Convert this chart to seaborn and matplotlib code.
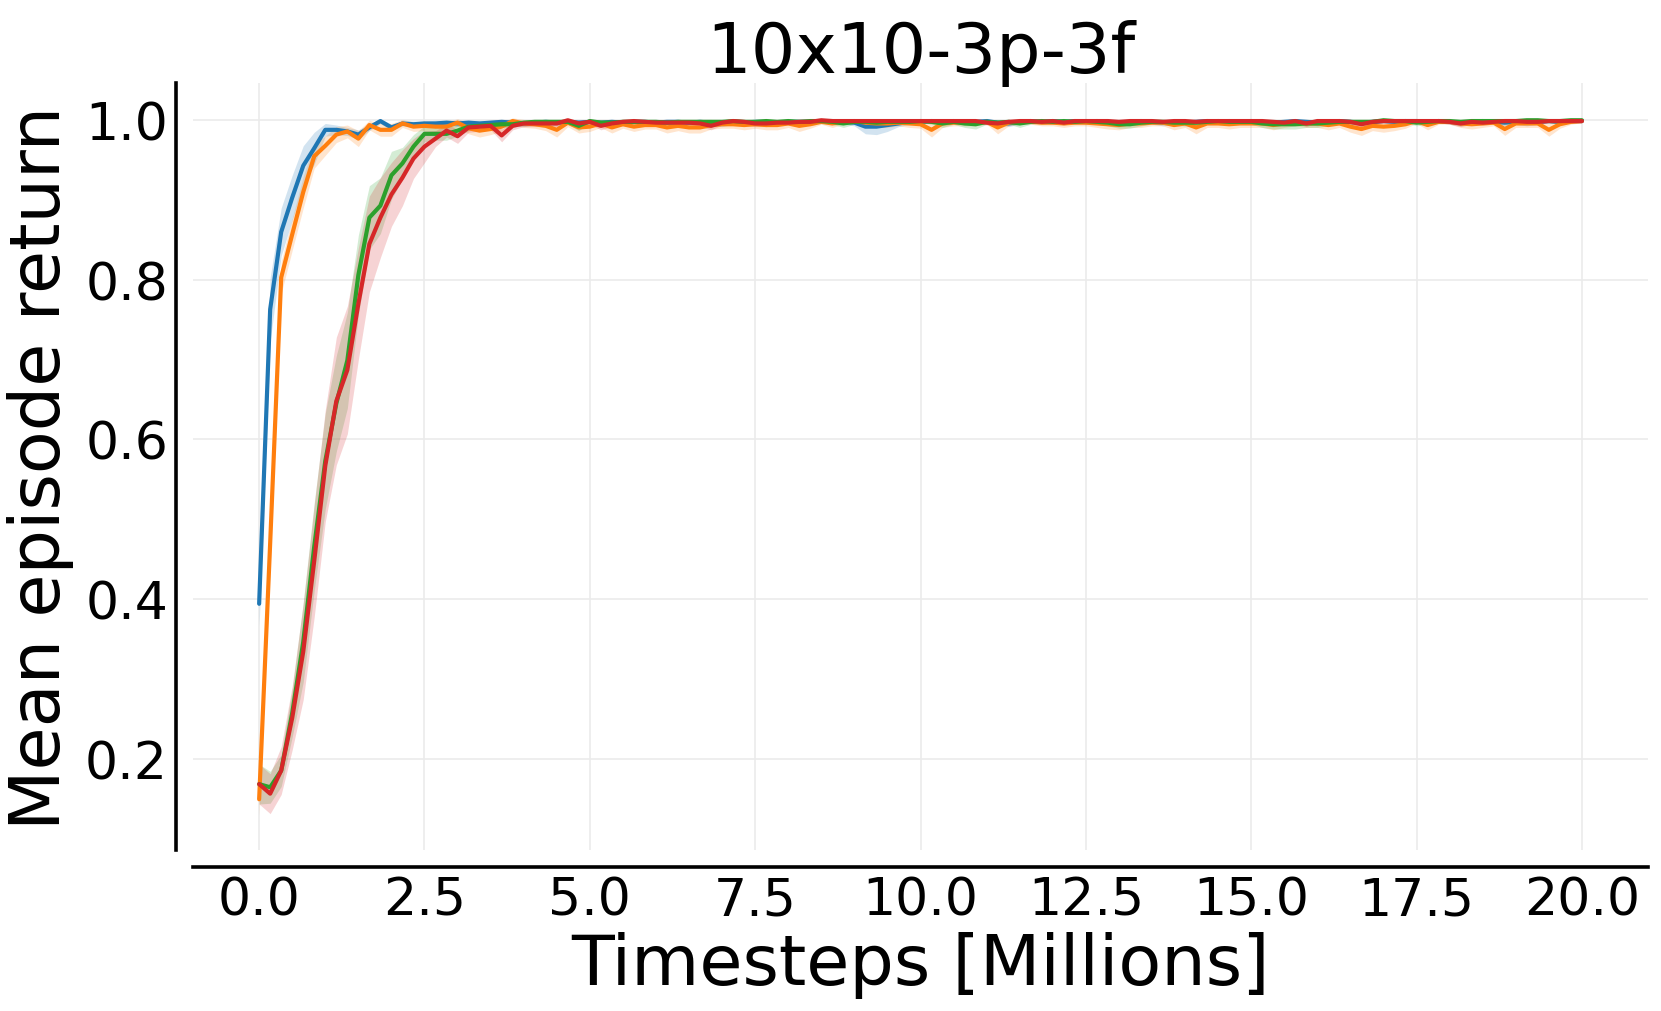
#!/usr/bin/env python3

import numpy as np
import pandas as pd
import matplotlib
matplotlib.use('Agg')
import matplotlib.pyplot as plt
import seaborn as sns

#evaluation points: 121 evaluations over 20M timesteps
timesteps = np.linspace(0, 20, 121)

#mean episode return per algorithm
blue_mean = [
    .394, .763, .860, .903, .943, .965, .988, .988, .986, .982, .991, .999, .991, .996, .995, .996,
    .996, .997, .996, .997, .996, .997, .998, .997, .996, .997, .998, .997, .998, .997, .998, .997,
    .998, .997, .998, .998, .997, .998, .998, .997, .998, .997, .996, .998, .997, .998, .998, .997,
    .998, .998, .998, .999, .999, .998, .997, .992, .992, .994, .996, .998, .998, .999, .998, .999,
    .997, .998, .999, .997, .996, .998, .999, .998, .999, .998, .999, .998, .999, .998, .997, .998,
    .999, .998, .997, .998, .997, .998, .999, .998, .999, .998, .999, .998, .997, .998, .999, .998,
    .997, .998, .999, .998, .997, .998, .999, .998, .999, .999, .998, .999, .998, .997, .998, .999,
    .998, .997, .998, .997, .998, .999, .998, .999, .999]
orange_mean = [
    .149, .470, .803, .857, .910, .955, .968, .982, .986, .977, .994, .988, .988, .996, .992, .993,
    .992, .992, .997, .990, .987, .989, .992, .999, .996, .995, .993, .988, .997, .991, .992, .996,
    .991, .995, .992, .994, .994, .991, .993, .991, .991, .994, .995, .995, .994, .995, .994, .994,
    .996, .993, .995, .998, .996, .998, .999, .997, .996, .996, .997, .996, .995, .988, .996, .997,
    .997, .997, .998, .991, .997, .998, .998, .997, .997, .996, .997, .997, .996, .995, .994, .996,
    .996, .997, .997, .994, .996, .991, .996, .996, .995, .996, .996, .996, .994, .996, .997, .996,
    .996, .994, .996, .992, .989, .993, .992, .993, .995, .999, .994, .998, .998, .996, .995, .996,
    .997, .989, .996, .996, .996, .988, .995, .998, .999]
green_mean = [
    .168, .164, .185, .257, .346, .466, .573, .645, .699, .806, .878, .893, .931, .946, .967, .983,
    .983, .983, .987, .992, .993, .994, .995, .995, .997, .998, .998, .998, .998, .993, .999, .997,
    .997, .998, .998, .998, .998, .997, .998, .998, .998, .998, .998, .999, .998, .998, .999, .998,
    .999, .998, .999, .999, .998, .996, .998, .998, .997, .998, .998, .998, .999, .998, .996, .998,
    .996, .995, .998, .997, .998, .996, .998, .999, .998, .999, .998, .999, .998, .997, .995, .995,
    .997, .998, .998, .997, .997, .997, .998, .999, .998, .998, .998, .996, .995, .995, .995, .996,
    .996, .997, .998, .998, .998, .998, 1.0, .999, .999, .997, .998, .999, .999, .998, .999, .999,
    .999, .999, .999, 1.0, 1.0, .999, .999, 1.0, 1.0]
red_mean = [
    .168, .156, .185, .251, .334, .448, .567, .648, .687, .770, .845, .878, .907, .928, .952, .967,
    .977, .987, .980, .991, .992, .993, .981, .993, .996, .996, .996, .996, 1.0, .996, .998, .993,
    .996, .998, .999, .998, .997, .997, .997, .997, .996, .993, .997, .999, .998, .996, .996, .997,
    .997, .998, .998, 1.0, .999, .999, .999, .999, .999, .999, .999, .999, .999, .999, .999, .999,
    .999, .999, .997, .996, .998, .999, .999, .998, .999, .997, .999, .999, .999, .999, .998, .999,
    .999, .999, .998, .999, .999, .998, .999, .999, .999, .999, .999, .999, .998, .997, .999, .996,
    .999, .999, .999, .998, .995, .998, .999, .999, .999, .999, .999, .999, .998, .996, .998, .997,
    .998, .999, .999, .998, .998, .999, .999, .999, .999]

#spread across seeds (shaded band = mean +- std)
blue_std = [
    .027, .040, .030, .028, .025, .020, .008, .006, .005, .006, .004, .003, .004, .003, .004, .003,
    .004, .003, .004, .003, .004, .003, .003, .004, .004, .003, .003, .004, .003, .004, .003, .003,
    .003, .004, .003, .003, .004, .003, .003, .003, .003, .004, .004, .003, .003, .003, .003, .003,
    .003, .003, .003, .002, .002, .003, .004, .009, .010, .008, .004, .003, .003, .002, .003, .002,
    .003, .003, .002, .003, .004, .003, .002, .003, .002, .003, .002, .003, .002, .003, .004, .003,
    .002, .003, .004, .003, .004, .003, .002, .003, .002, .003, .002, .003, .004, .003, .002, .003,
    .004, .003, .002, .003, .004, .003, .002, .003, .002, .002, .003, .002, .003, .004, .003, .002,
    .003, .004, .003, .004, .003, .002, .003, .002, .002]
orange_std = [
    .020, .030, .020, .020, .020, .015, .012, .010, .008, .010, .006, .008, .008, .005, .006, .006,
    .006, .006, .005, .007, .008, .007, .006, .004, .005, .005, .006, .009, .005, .007, .006, .005,
    .007, .005, .006, .005, .005, .007, .006, .007, .007, .005, .005, .005, .006, .005, .006, .006,
    .005, .007, .005, .003, .005, .003, .002, .004, .005, .005, .004, .005, .005, .009, .005, .004,
    .004, .004, .003, .008, .004, .003, .003, .004, .004, .005, .004, .004, .005, .006, .006, .005,
    .005, .004, .004, .006, .005, .008, .005, .005, .006, .005, .005, .005, .006, .005, .004, .005,
    .005, .006, .005, .007, .008, .006, .007, .006, .005, .003, .006, .003, .003, .005, .006, .005,
    .004, .008, .005, .005, .005, .008, .005, .003, .002]
green_std = [
    .025, .020, .020, .030, .050, .055, .060, .060, .060, .050, .040, .035, .030, .020, .015, .010,
    .008, .008, .007, .005, .005, .004, .004, .004, .003, .003, .003, .003, .003, .006, .002, .003,
    .003, .003, .003, .003, .003, .003, .003, .003, .003, .003, .003, .002, .003, .003, .002, .003,
    .002, .003, .002, .002, .003, .005, .003, .003, .004, .003, .003, .003, .002, .003, .005, .003,
    .005, .006, .003, .004, .003, .005, .003, .002, .003, .002, .003, .002, .003, .004, .005, .005,
    .004, .003, .003, .004, .004, .004, .003, .002, .003, .003, .003, .005, .006, .006, .006, .005,
    .005, .004, .003, .003, .003, .003, .001, .002, .002, .004, .003, .002, .002, .003, .002, .002,
    .002, .002, .002, .001, .001, .002, .002, .001, .001]
red_std = [
    .025, .025, .030, .040, .060, .070, .070, .080, .080, .070, .060, .050, .040, .035, .025, .020,
    .010, .008, .009, .006, .006, .005, .008, .005, .004, .004, .004, .004, .002, .004, .003, .005,
    .004, .003, .002, .003, .003, .003, .003, .003, .004, .005, .003, .002, .003, .004, .004, .003,
    .003, .003, .003, .001, .002, .002, .002, .002, .002, .002, .002, .002, .002, .002, .002, .002,
    .002, .002, .003, .004, .003, .002, .002, .003, .002, .003, .002, .002, .002, .002, .003, .002,
    .002, .002, .003, .002, .002, .003, .002, .002, .002, .002, .002, .002, .003, .003, .002, .004,
    .002, .002, .002, .003, .004, .003, .002, .002, .002, .002, .002, .002, .003, .004, .003, .003,
    .003, .002, .002, .003, .003, .002, .002, .002, .002]

series_names = ['blue', 'orange', 'green', 'red']
series_colors = ['tab:blue', 'tab:orange', 'tab:green', 'tab:red']
means = [blue_mean, orange_mean, green_mean, red_mean]
stds = [blue_std, orange_std, green_std, red_std]

#long form table for seaborn
df = pd.concat([pd.DataFrame({'x': timesteps, 'y': m, 'run': n})
                for n, m in zip(series_names, means)], ignore_index=True)

sns.set_style('whitegrid')
plt.rcParams['font.family'] = ['DejaVu Sans']
plt.rcParams['text.color'] = 'black'
plt.rcParams['axes.labelcolor'] = 'black'
plt.rcParams['xtick.color'] = 'black'
plt.rcParams['ytick.color'] = 'black'

fig = plt.figure(figsize=(16.61, 10.12), dpi=100)
ax = fig.add_axes([0.1162, 0.159, 0.876, 0.758])

sns.lineplot(data=df, x='x', y='y', hue='run', palette=series_colors,
             linewidth=3, legend=False, ax=ax)

#shaded bands
for m, s, c in zip(means, stds, series_colors):
    m = np.array(m)
    s = np.array(s)
    ax.fill_between(timesteps, m - s, m + s, color=c, alpha=0.2, linewidth=0)

ax.grid(True, color='#ebebeb', linewidth=1.2)
ax.set_axisbelow(True)

#despine with offset, like the original
sns.despine(ax=ax, offset=12)
for side in ['left', 'bottom']:
    ax.spines[side].set_color('black')
    ax.spines[side].set_linewidth(2.6)

ax.tick_params(axis='both', length=0, labelsize=37.5, pad=6)
ax.set_xlabel('Timesteps [Millions]', fontsize=50.5, labelpad=4)
ax.set_ylabel('Mean episode return', fontsize=50.5, labelpad=8)
ax.set_title('10x10-3p-3f', fontsize=50.5, pad=8)

plt.savefig('out.png', dpi=100)
